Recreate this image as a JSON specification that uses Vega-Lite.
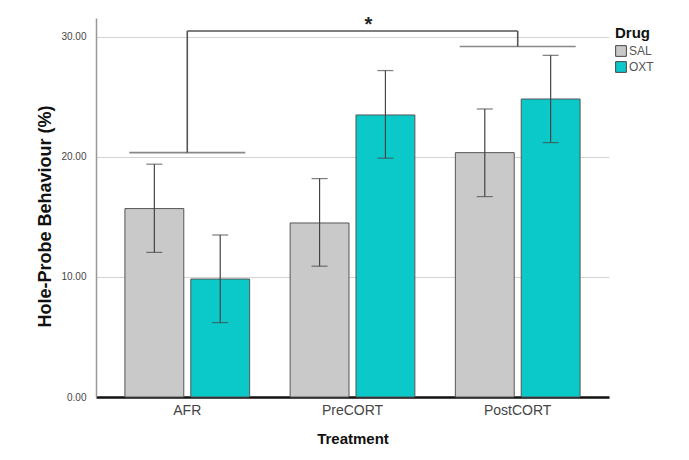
{
  "$schema": "https://vega.github.io/schema/vega-lite/v6.json",
  "width": 513,
  "height": 379,
  "autosize": {"type": "none"},
  "padding": {"left": 96, "top": 18, "right": 80, "bottom": 63},
  "background": "white",
  "config": {
    "font": "Liberation Sans",
    "view": {"stroke": null}
  },
  "datasets": {
    "bars": [
      {"Treatment": "AFR", "Drug": "SAL", "mean": 15.7, "lo": 12.05, "hi": 19.4},
      {"Treatment": "AFR", "Drug": "OXT", "mean": 9.83, "lo": 6.2, "hi": 13.5},
      {"Treatment": "PreCORT", "Drug": "SAL", "mean": 14.5, "lo": 10.9, "hi": 18.2},
      {"Treatment": "PreCORT", "Drug": "OXT", "mean": 23.5, "lo": 19.9, "hi": 27.2},
      {"Treatment": "PostCORT", "Drug": "SAL", "mean": 20.36, "lo": 16.7, "hi": 24.0},
      {"Treatment": "PostCORT", "Drug": "OXT", "mean": 24.83, "lo": 21.2, "hi": 28.47}
    ],
    "legs": [
      {"Treatment": "AFR", "y": 20.36, "y2": 30.5},
      {"Treatment": "PostCORT", "y": 29.2, "y2": 30.5}
    ],
    "top": [
      {"from": "AFR", "to": "PostCORT", "y": 30.5}
    ],
    "star": [
      {"Treatment": "PreCORT", "y": 31.3, "label": "*"}
    ]
  },
  "layer": [
    {
      "data": {"name": "bars"},
      "mark": {"type": "bar", "stroke": "#555555", "strokeWidth": 1},
      "encoding": {
        "x": {
          "field": "Treatment", "type": "nominal",
          "sort": null,
          "scale": {"domain": ["AFR", "PreCORT", "PostCORT"], "paddingInner": 0.245, "paddingOuter": 0.175},
          "axis": {
            "title": "Treatment", "titleFontSize": 15, "titleFontWeight": "bold", "titleColor": "#111111",
            "titlePadding": 14, "labelAngle": 0, "labelFontSize": 14, "labelColor": "#444444",
            "labelPadding": 6, "ticks": false, "domainColor": "#111111", "domainWidth": 2.5, "grid": false
          }
        },
        "xOffset": {
          "field": "Drug", "type": "nominal", "sort": null,
          "scale": {"domain": ["SAL", "OXT"], "paddingInner": 0.106, "paddingOuter": 0}
        },
        "y": {
          "field": "mean", "type": "quantitative",
          "scale": {"domain": [0, 31.58], "nice": false, "zero": true},
          "axis": {
            "title": "Hole-Probe Behaviour (%)", "titleFontSize": 18, "titleFontWeight": "bold", "titleColor": "#111111",
            "titlePadding": 6, "titleY": 198, "values": [0, 10, 20, 30], "format": ".2f", "labelFontSize": 10, "labelColor": "#444444",
            "labelPadding": 10, "ticks": false, "domainColor": "#999999", "domainWidth": 1.5,
            "grid": true, "gridColor": "#d3d3d3", "gridWidth": 1.2
          }
        },
        "color": {
          "field": "Drug", "type": "nominal", "sort": null,
          "scale": {"domain": ["SAL", "OXT"], "range": ["#c9c9c9", "#0cc9c9"]},
          "legend": {
            "title": "Drug", "orient": "none", "legendX": 519, "legendY": 8,
            "titleFontSize": 15, "titleFontWeight": "bold", "titleColor": "#111111", "titlePadding": 4,
            "symbolType": "square", "symbolSize": 115, "symbolStrokeColor": "#444444", "symbolStrokeWidth": 1,
            "labelFontSize": 12, "labelColor": "#555555", "labelOffset": 2, "rowPadding": 0
          }
        }
      }
    },
    {
      "data": {"name": "bars"},
      "mark": {"type": "rule", "color": "#444444", "strokeWidth": 1.2},
      "encoding": {
        "x": {"field": "Treatment", "type": "nominal", "sort": null},
        "xOffset": {"field": "Drug", "type": "nominal", "sort": null},
        "y": {"field": "lo", "type": "quantitative"},
        "y2": {"field": "hi"}
      }
    },
    {
      "data": {"name": "bars"},
      "mark": {"type": "tick", "color": "#444444", "thickness": 1.2, "size": 16, "orient": "horizontal"},
      "encoding": {
        "x": {"field": "Treatment", "type": "nominal", "sort": null},
        "xOffset": {"field": "Drug", "type": "nominal", "sort": null},
        "y": {"field": "lo", "type": "quantitative"}
      }
    },
    {
      "data": {"name": "bars"},
      "mark": {"type": "tick", "color": "#444444", "thickness": 1.2, "size": 16, "orient": "horizontal"},
      "encoding": {
        "x": {"field": "Treatment", "type": "nominal", "sort": null},
        "xOffset": {"field": "Drug", "type": "nominal", "sort": null},
        "y": {"field": "hi", "type": "quantitative"}
      }
    },
    {
      "data": {"name": "legs"},
      "mark": {"type": "tick", "color": "#555555", "thickness": 1.6, "size": 116, "orient": "horizontal"},
      "encoding": {
        "x": {"field": "Treatment", "type": "nominal", "sort": null},
        "y": {"field": "y", "type": "quantitative"}
      }
    },
    {
      "data": {"name": "legs"},
      "mark": {"type": "rule", "color": "#555555", "strokeWidth": 1.6},
      "encoding": {
        "x": {"field": "Treatment", "type": "nominal", "sort": null},
        "y": {"field": "y", "type": "quantitative"},
        "y2": {"field": "y2"}
      }
    },
    {
      "data": {"name": "top"},
      "mark": {"type": "rule", "color": "#555555", "strokeWidth": 1.6},
      "encoding": {
        "x": {"field": "from", "type": "nominal", "sort": null},
        "x2": {"field": "to"},
        "y": {"field": "y", "type": "quantitative"}
      }
    },
    {
      "data": {"name": "star"},
      "mark": {"type": "text", "fontSize": 20, "fontWeight": "bold", "color": "#222222", "dx": 16, "baseline": "middle", "dy": 4},
      "encoding": {
        "x": {"field": "Treatment", "type": "nominal", "sort": null},
        "y": {"field": "y", "type": "quantitative"},
        "text": {"field": "label"}
      }
    }
  ]
}
